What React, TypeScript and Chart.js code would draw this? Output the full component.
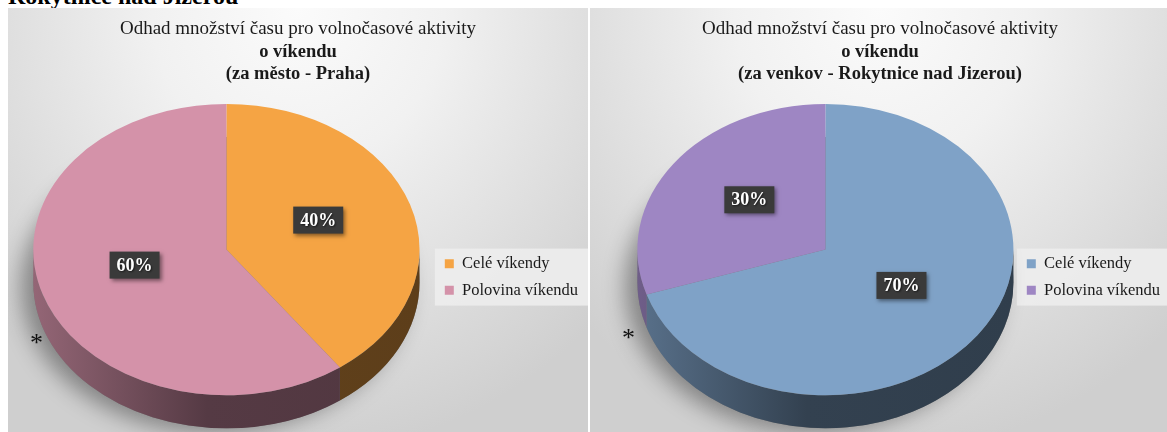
import React, { useEffect, useRef } from "react";
import { Chart, registerables } from "chart.js";

Chart.register(...registerables);

const PAGE_HEADING = "Rokytnice nad Jizerou";
const CATEGORIES = ["Celé víkendy", "Polovina víkendu"];
const CHART_TITLE = "Odhad množství času pro volnočasové aktivity";
const CITY_SUBTITLE = ["o víkendu", "(za město - Praha)"];
const RURAL_SUBTITLE = ["o víkendu", "(za venkov - Rokytnice nad Jizerou)"];
const CITY_VALUES = [40, 60];
const RURAL_VALUES = [70, 30];
const CITY_COLORS = ["#F5A444", "#D492A9"];
const RURAL_COLORS = ["#7FA2C7", "#9E86C3"];
const FOOTNOTE_MARK = "*";

const SERIF = '"Liberation Serif", "Times New Roman", serif';

function shade(hex: string, f: number): string {
  const n = parseInt(hex.slice(1), 16);
  const r = Math.round(((n >> 16) & 255) * f);
  const g = Math.round(((n >> 8) & 255) * f);
  const b = Math.round((n & 255) * f);
  return `rgb(${r},${g},${b})`;
}

const pie3d = {
  id: "pie3d",
  beforeDraw(chart: any, _a: any, opts: any) {
    const lg = chart.legend;
    if (lg && lg.legendHitBoxes && lg.legendHitBoxes.length) {
      const boxes = lg.legendHitBoxes;
      const minX = Math.min(...boxes.map((b: any) => b.left));
      const minY = Math.min(...boxes.map((b: any) => b.top));
      const maxY = Math.max(...boxes.map((b: any) => b.top + b.height));
      const ctx = chart.ctx;
      ctx.save();
      ctx.fillStyle = opts.legendBg;
      ctx.fillRect(minX - 10, minY - 7, chart.width - minX + 10, maxY - minY + 14);
      ctx.restore();
    }
  },
  beforeDatasetsDraw(chart: any, _a: any, opts: any) {
    const ctx = chart.ctx;
    const arcs = chart.getDatasetMeta(0).data;
    if (!arcs.length) {
      ctx.save();
      return;
    }
    const a0 = arcs[0];
    const cx = a0.x;
    const cy = a0.y;
    const R = a0.outerRadius;
    const ex = cx + opts.shiftX;
    const ey = cy + opts.shiftY;
    const rx = R * opts.scaleX;
    const ry = R * opts.scaleY;
    const d = opts.depth;
    chart.$pie3d = { ex, ey, rx, ry };

    // soft shadow of the 3D body
    ctx.save();
    ctx.shadowColor = "rgba(0,0,0,0.38)";
    ctx.shadowBlur = 22;
    ctx.shadowOffsetX = -12;
    ctx.shadowOffsetY = 4;
    ctx.fillStyle = "#777";
    ctx.beginPath();
    ctx.ellipse(ex, ey + d, rx, ry, 0, 0, Math.PI * 2);
    ctx.fill();
    ctx.restore();

    // side walls (front half only)
    const colors = chart.data.datasets[0].backgroundColor;
    arcs.forEach((arc: any, i: number) => {
      const s0 = arc.startAngle;
      const e0 = arc.endAngle;
      const grad = ctx.createLinearGradient(ex - rx, 0, ex + rx, 0);
      grad.addColorStop(0, shade(colors[i], 0.7));
      grad.addColorStop(0.45, shade(colors[i], 0.4));
      grad.addColorStop(1, shade(colors[i], 0.38));
      for (const k of [-2 * Math.PI, 0, 2 * Math.PI]) {
        const lo = Math.max(s0 + k, 0);
        const hi = Math.min(e0 + k, Math.PI);
        if (lo < hi) {
          ctx.beginPath();
          ctx.ellipse(ex, ey, rx, ry, 0, lo, hi, false);
          ctx.ellipse(ex, ey + d, rx, ry, 0, hi, lo, true);
          ctx.closePath();
          ctx.fillStyle = grad;
          ctx.fill();
        }
      }
    });

    // squash the top face into an ellipse
    ctx.save();
    ctx.translate(ex, ey);
    ctx.scale(opts.scaleX, opts.scaleY);
    ctx.translate(-cx, -cy);
  },
  afterDatasetsDraw(chart: any, _a: any, opts: any) {
    const ctx = chart.ctx;
    ctx.restore();
    const e = chart.$pie3d;
    if (!e) return;
    const arcs = chart.getDatasetMeta(0).data;
    const data: number[] = chart.data.datasets[0].data;
    const total = data.reduce((s, v) => s + v, 0);
    arcs.forEach((arc: any, i: number) => {
      const mid = (arc.startAngle + arc.endAngle) / 2;
      const px = e.ex + e.rx * opts.labelRadius * Math.cos(mid);
      const py = e.ey + e.ry * opts.labelRadius * Math.sin(mid) + opts.labelShiftY;
      const text = Math.round((data[i] / total) * 100) + "%";
      ctx.save();
      ctx.font = `bold 18px ${SERIF}`;
      const w = ctx.measureText(text).width + 14;
      const h = 27;
      ctx.shadowColor = "rgba(0,0,0,0.45)";
      ctx.shadowBlur = 4;
      ctx.shadowOffsetX = 2;
      ctx.shadowOffsetY = 2;
      ctx.fillStyle = "#3a3a3a";
      ctx.fillRect(px - w / 2, py - h / 2, w, h);
      ctx.shadowColor = "rgba(0,0,0,0.6)";
      ctx.shadowBlur = 2;
      ctx.shadowOffsetX = 1;
      ctx.shadowOffsetY = 1;
      ctx.fillStyle = "#ffffff";
      ctx.textAlign = "center";
      ctx.textBaseline = "middle";
      ctx.fillText(text, px, py + 1);
      ctx.restore();
    });
  },
};

type PanelProps = {
  left: number;
  subtitle: string[];
  values: number[];
  colors: string[];
  shiftX: number;
  scaleX: number;
  markLeft: number;
  markTop: number;
};

function PiePanel(p: PanelProps) {
  const ref = useRef<HTMLCanvasElement | null>(null);
  useEffect(() => {
    if (!ref.current) return;
    const chart = new Chart(ref.current, {
      type: "pie",
      data: {
        labels: CATEGORIES,
        datasets: [
          {
            data: p.values,
            backgroundColor: p.colors,
            borderWidth: 0,
            clip: false,
          } as any,
        ],
      },
      plugins: [pie3d as any],
      options: {
        responsive: false,
        animation: false,
        events: [],
        plugins: {
          title: {
            display: true,
            text: CHART_TITLE,
            color: "#1a1a1a",
            font: { family: SERIF, size: 19, weight: "normal", lineHeight: 1.2 },
            padding: { top: 10, bottom: 0 },
          },
          subtitle: {
            display: true,
            text: p.subtitle,
            color: "#1a1a1a",
            font: { family: SERIF, size: 18.5, weight: "bold", lineHeight: 1.2 },
            padding: { top: 0, bottom: 8 },
          },
          legend: {
            position: "right",
            title: {
              display: true,
              text: "",
              font: { size: 1 },
              padding: { top: 113, bottom: 0 },
            },
            labels: {
              boxWidth: 9,
              boxHeight: 9,
              color: "#1a1a1a",
              font: { family: SERIF, size: 16.5 },
              padding: 10,
            },
          },
          tooltip: { enabled: false },
          pie3d: {
            shiftX: p.shiftX,
            shiftY: -13,
            scaleX: p.scaleX,
            scaleY: 0.86,
            depth: 33,
            labelRadius: 0.5,
            labelShiftY: -7,
            legendBg: "rgba(236,236,236,0.95)",
          },
        } as any,
      },
    });
    return () => chart.destroy();
  }, []);
  return (
    <div
      style={{
        position: "absolute",
        left: p.left,
        top: 8,
        width: 580,
        height: 424,
        background:
          "radial-gradient(ellipse 72% 105% at 50% 0%, #fbfbfb 0%, #f1f1f1 35%, #dcdcdc 75%, #cfcfcf 100%)",
        overflow: "hidden",
      }}
    >
      <canvas ref={ref} width={580} height={424} style={{ display: "block" }} />
      <span
        style={{
          position: "absolute",
          left: p.markLeft,
          top: p.markTop,
          font: `26px ${SERIF}`,
          lineHeight: "26px",
          color: "#111",
        }}
      >
        {FOOTNOTE_MARK}
      </span>
    </div>
  );
}

export default function App() {
  return (
    <div
      style={{
        position: "fixed",
        left: 0,
        top: 0,
        width: 1167,
        height: 432,
        overflow: "hidden",
        background: "#ffffff",
      }}
    >
      <div
        style={{
          position: "absolute",
          left: 8,
          top: -16,
          font: `bold 24px ${SERIF}`,
          lineHeight: "24px",
          color: "#000",
          whiteSpace: "nowrap",
        }}
      >
        {PAGE_HEADING}
      </div>
      <PiePanel
        left={8}
        subtitle={CITY_SUBTITLE}
        values={CITY_VALUES}
        colors={CITY_COLORS}
        shiftX={5}
        scaleX={1.14}
        markLeft={22}
        markTop={322}
      />
      <PiePanel
        left={590}
        subtitle={RURAL_SUBTITLE}
        values={RURAL_VALUES}
        colors={RURAL_COLORS}
        shiftX={22}
        scaleX={1.11}
        markLeft={32}
        markTop={317}
      />
    </div>
  );
}
